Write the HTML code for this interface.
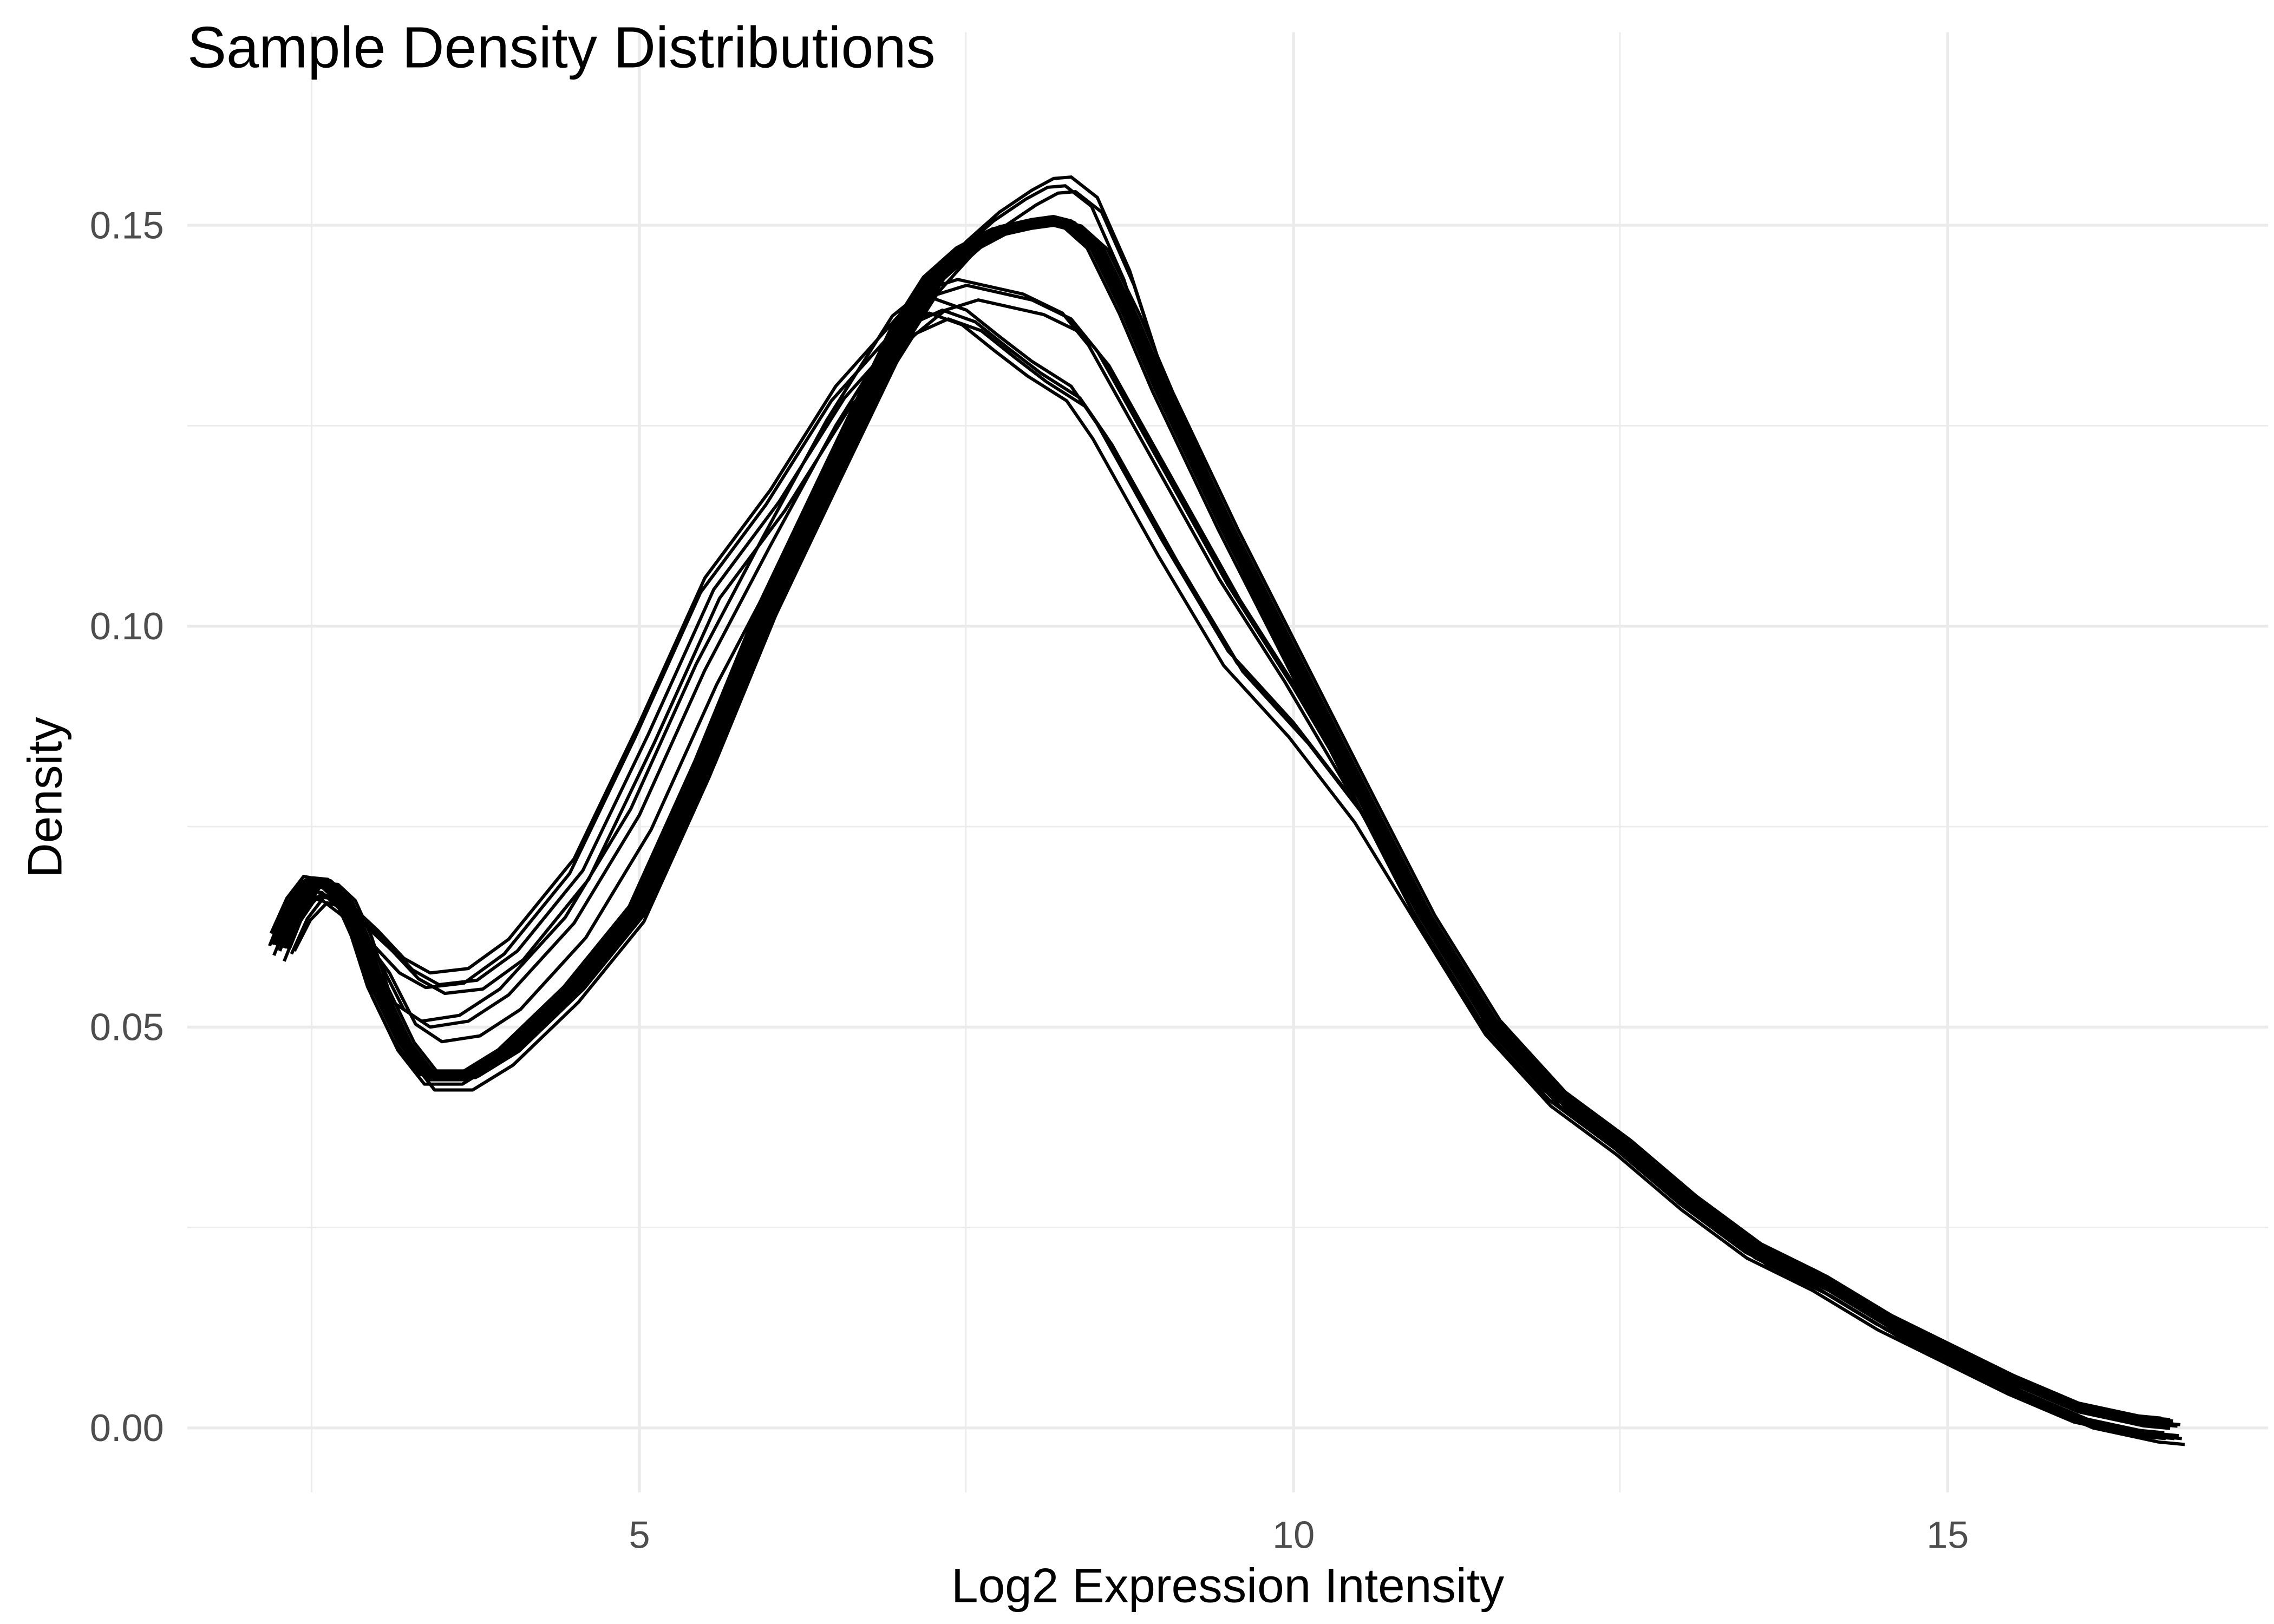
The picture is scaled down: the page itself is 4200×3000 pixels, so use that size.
<!DOCTYPE html>
<html><head><meta charset="utf-8">
<style>html,body{margin:0;padding:0;background:#fff}svg{display:block}</style>
</head><body>
<svg xmlns="http://www.w3.org/2000/svg" xmlns:xlink="http://www.w3.org/1999/xlink" width="4200" height="3000" viewBox="0 0 1554 1110">
<rect width="1554" height="1110" fill="#fff"/>
<g stroke="#ebebeb" stroke-width="1">
<line x1="128" x2="1550" y1="839" y2="839"/><line x1="128" x2="1550" y1="565" y2="565"/><line x1="128" x2="1550" y1="291" y2="291"/>
<line x1="213" x2="213" y1="22" y2="1020"/><line x1="660" x2="660" y1="22" y2="1020"/><line x1="1107" x2="1107" y1="22" y2="1020"/>
</g>
<g stroke="#ebebeb" stroke-width="2">
<line x1="128" x2="1550" y1="976" y2="976"/><line x1="128" x2="1550" y1="702" y2="702"/><line x1="128" x2="1550" y1="428" y2="428"/><line x1="128" x2="1550" y1="154" y2="154"/>
<line x1="437" x2="437" y1="22" y2="1020"/><line x1="884" x2="884" y1="22" y2="1020"/><line x1="1331" x2="1331" y1="22" y2="1020"/>
</g>
<defs>
<polyline id="b" points="191.2,647 202,620 213.5,603 224,604 235.8,615 247,640 258.2,675 276,712 294,735 320,735 347.6,718 392.3,675 437,620 481.7,521 526.4,412 571.1,318 615.8,225 638,190 660.5,170 683,158 705.2,153 720,151 732,154 749.9,170 772,215 794.6,268 839.3,362 884,450 928.7,538 973.4,625 1018.1,697 1062.8,746 1107.5,779 1152.2,817 1196.9,850 1241.6,872 1286.3,899 1331,921 1375.7,943 1420.4,962 1465.1,971.6 1483,973.3"/>
<polyline id="h" points="191.2,647 202,620 213.5,603 224,604 235.8,615 247,640 258.2,675 276,712 294,735 320,735 347.6,718 392.3,675 437,620 481.7,521 526.4,412 571.1,318 615.8,225 638,190 660.5,165 683,145 705.2,130 720,122 732,121 749.9,135 772,185 794.6,255 839.3,355 884,448 928.7,538 973.4,625 1018.1,697 1062.8,746 1107.5,779 1152.2,817 1196.9,850 1241.6,872 1286.3,899 1331,921 1375.7,943 1420.4,962 1465.1,971.6 1483,973.3"/>
<polyline id="m" points="191.2,642 202,618 213.5,603 224,605 235.8,618 247,640 258.2,655 276,690 294,702 320,698 347.6,680 392.3,631 437,557 481.7,458 526.4,373 571.1,291 615.8,220 638,202 660.5,195 705.2,205 732,218 749.9,240 794.6,320 839.3,400 884,470 928.7,546 973.4,625 1018.1,697 1062.8,746 1107.5,779 1152.2,817 1196.9,850 1241.6,872 1286.3,899 1331,921 1375.7,943 1420.4,962 1465.1,971.6 1483,973.3"/>
<polyline id="l" points="191.2,636 202,615 213.5,603 224,606 235.8,615 258.2,636 276,655 294,665 320,662 347.6,642 392.3,587 437,494 481.7,395 526.4,335 571.1,264 615.8,214 638,204 660.5,212 683,230 705.2,247 732,264 749.9,290 794.6,370 839.3,445 884,494 928.7,552 973.4,625 1018.1,697 1062.8,746 1107.5,779 1152.2,817 1196.9,850 1241.6,872 1286.3,899 1331,921 1375.7,943 1420.4,962 1465.1,971.6 1483,973.3"/>
</defs>
<g fill="none" stroke="#000" stroke-width="2.2" stroke-linejoin="round">
<use xlink:href="#b"/>
<use xlink:href="#b" transform="translate(3,1)"/>
<use xlink:href="#b" transform="translate(-3,-1)"/>
<use xlink:href="#b" transform="translate(5,1.5)"/>
<use xlink:href="#b" transform="translate(-5,-1.5)"/>
<use xlink:href="#b" transform="translate(2,-2)"/>
<use xlink:href="#b" transform="translate(-2,2)"/>
<use xlink:href="#b" transform="translate(7,0.5)"/>
<use xlink:href="#b" transform="translate(-7,-0.5)"/>
<use xlink:href="#b" transform="translate(0,3)"/>
<use xlink:href="#b" transform="translate(0,-3)"/>
<use xlink:href="#h"/>
<use xlink:href="#h" transform="translate(-4,6)"/>
<use xlink:href="#h" transform="translate(3,10)"/>
<use xlink:href="#m"/>
<use xlink:href="#m" transform="translate(8,10)"/>
<use xlink:href="#m" transform="translate(-6,-4)"/>
<use xlink:href="#l"/>
<use xlink:href="#l" transform="translate(6,8)"/>
<use xlink:href="#l" transform="translate(-3,10)"/>
<use xlink:href="#l" transform="translate(10,14)"/>
</g>
<g font-family="Liberation Sans, sans-serif" fill="#4d4d4d" font-size="26">
<text x="112" y="985" text-anchor="end">0.00</text>
<text x="112" y="711" text-anchor="end">0.05</text>
<text x="112" y="437" text-anchor="end">0.10</text>
<text x="112" y="163" text-anchor="end">0.15</text>
<text x="437" y="1058" text-anchor="middle">5</text>
<text x="884" y="1058" text-anchor="middle">10</text>
<text x="1331" y="1058" text-anchor="middle">15</text>
</g>
<g font-family="Liberation Sans, sans-serif" fill="#000">
<text x="128" y="46" font-size="40">Sample Density Distributions</text>
<text x="839" y="1095" font-size="33" text-anchor="middle">Log2 Expression Intensity</text>
<text transform="translate(42,545) rotate(-90)" font-size="33" text-anchor="middle">Density</text>
</g>
</svg>
</body></html>
